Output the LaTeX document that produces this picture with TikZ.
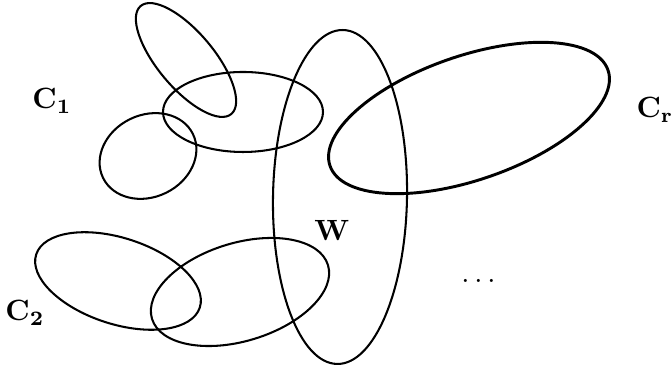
\documentclass[tikz,border=0pt]{standalone}
\usepackage{amsmath}
\usepackage{tikz}

\begin{document}
\begin{tikzpicture}[
    x=0.012cm, y=0.012cm,
    set/.style={draw, line width=0.7pt},
    bigset/.style={draw, line width=1pt},
    lbl/.style={font=\normalsize},
]
    \useasboundingbox (0,0) rectangle (672,369);

    % The set W
    \draw[set, shift={(340,172)}, rotate=-1] (0,0) ellipse [x radius=67, y radius=167];
    \node[lbl] (w) at (332,139) {$\mathbf{W}$};

    % Cluster C_1
    \draw[set, shift={(186,309)}, rotate=-50] (0,0) ellipse [x radius=70.5, y radius=28];
    \draw[set, shift={(243,257)}] (0,0) ellipse [x radius=80, y radius=40];
    \draw[set, shift={(148,213)}, rotate=26] (0,0) ellipse [x radius=50, y radius=41];
    \node[lbl] (c1) at (52,268) {$\mathbf{C_1}$};

    % Cluster C_2
    \draw[set, shift={(118,88)}, rotate=-18] (0,0) ellipse [x radius=86, y radius=43];
    \draw[set, shift={(240,77)}, rotate=17] (0,0) ellipse [x radius=92, y radius=49];
    \node[lbl] (c2) at (25,56) {$\mathbf{C_2}$};

    % Cluster C_r
    \draw[bigset, shift={(469,251)}, rotate=19] (0,0) ellipse [x radius=147, y radius=62];
    \node[lbl] (cr) at (655,259) {$\mathbf{C_r}$};

    \node[lbl] (dots) at (481,88) {$\dots$};
\end{tikzpicture}
\end{document}
